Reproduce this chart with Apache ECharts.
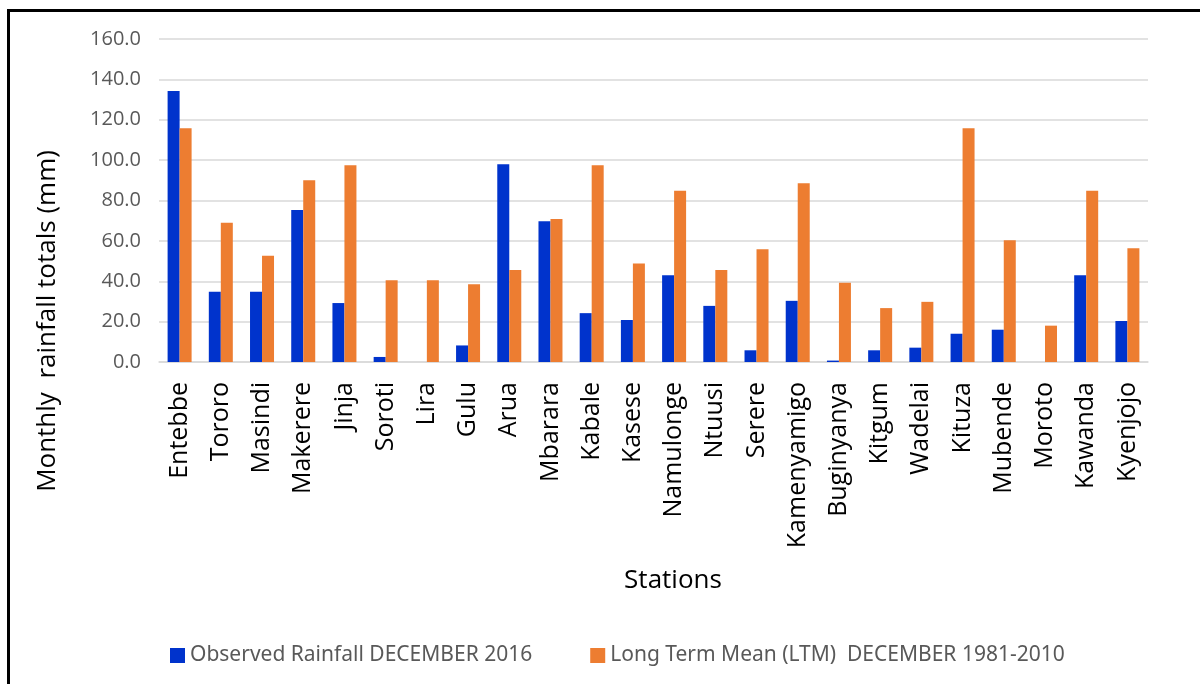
<!DOCTYPE html>
<html>
<head>
<meta charset="utf-8">
<script src="https://cdn.jsdelivr.net/npm/echarts@6/dist/echarts.min.js"></script>
<style>
html,body{margin:0;padding:0;background:#fff;}
#chart{width:1200px;height:684px;}
</style>
</head>
<body>
<div id="chart"></div>
<script>
const stations = ["Entebbe","Tororo","Masindi","Makerere","Jinja","Soroti","Lira","Gulu","Arua","Mbarara","Kabale","Kasese","Namulonge","Ntuusi","Serere","Kamenyamigo","Buginyanya","Kitgum","Wadelai","Kituza","Mubende","Moroto","Kawanda","Kyenjojo"];
const observed2016 = [134.3,34.8,34.8,75.3,29.2,2.5,0,8.2,98.0,69.7,24.2,20.8,43.0,27.8,5.8,30.3,0.7,5.8,7.1,14.0,16.0,0,43.0,20.3];
const ltm1981_2010 = [115.8,69.0,52.6,90.0,97.4,40.5,40.5,38.5,45.6,70.8,97.4,48.8,84.8,45.6,55.8,88.6,39.2,26.7,29.8,115.8,60.3,18.0,84.8,56.3];
const seriesNames = ["Observed Rainfall DECEMBER 2016","Long Term Mean (LTM)  DECEMBER 1981-2010"];
const yTicks = {min:0,max:160,interval:20};

const FONT = "'Open Sans','Noto Sans',sans-serif";
const chart = echarts.init(document.getElementById('chart'));
chart.setOption({
  backgroundColor:'#fff',
  animation:false,
  grid:{left:159,right:52,top:39,bottom:322,containLabel:false},
  legend:{
    left:165, top:640, itemWidth:15, itemHeight:15, itemGap:58,
    icon:'rect',
    textStyle:{fontSize:21,color:'#595959',fontFamily:"'Noto Sans',sans-serif"},
    data:seriesNames
  },
  xAxis:{
    type:'category', data:stations,
    axisLine:{show:true,lineStyle:{color:'#D9D9D9',width:1.5}},
    axisTick:{show:false},
    axisLabel:{rotate:90,interval:0,fontSize:25,color:'#000',margin:20,fontFamily:FONT}
  },
  yAxis:{
    type:'value', min:yTicks.min, max:yTicks.max, interval:yTicks.interval,
    axisLine:{show:false}, axisTick:{show:false},
    splitLine:{lineStyle:{color:'#D9D9D9',width:1.5}},
    axisLabel:{fontSize:20,color:'#595959',margin:18,fontFamily:FONT,formatter:v=>v.toFixed(1)}
  },
  series:[
    {name:seriesNames[0],type:'bar',data:observed2016,barWidth:12,barGap:'0%',itemStyle:{color:'#0033CC'}},
    {name:seriesNames[1],type:'bar',data:ltm1981_2010,barWidth:12,barGap:'0%',itemStyle:{color:'#ED7D31'}}
  ],
  graphic:[
    {type:'rect',shape:{x:8.5,y:10.5,width:1300,height:800},style:{fill:'none',stroke:'#000',lineWidth:3},silent:true},
    {type:'text',x:48,y:321,rotation:Math.PI/2,style:{text:'Monthly  rainfall totals (mm)',fontSize:26,fill:'#000',fontFamily:FONT,textAlign:'center',textVerticalAlign:'middle'}},
    {type:'text',x:673,y:581,style:{text:'Stations',fontSize:26,fill:'#000',fontFamily:FONT,textAlign:'center',textVerticalAlign:'middle'}}
  ]
});
</script>
</body>
</html>
